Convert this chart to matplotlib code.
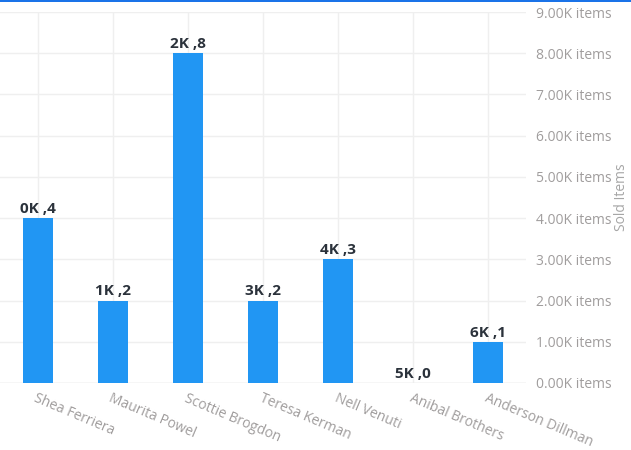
import matplotlib.pyplot as plt
from matplotlib.ticker import FuncFormatter, MultipleLocator
from matplotlib.patches import Rectangle

# datos del gráfico
vendedores = ["Shea Ferriera", "Maurita Powel", "Scottie Brogdon", "Teresa Kerman",
              "Nell Venuti", "Anibal Brothers", "Anderson Dillman"]
vendidos = [4000, 2000, 8000, 2000, 3000, 0, 1000]

plt.rcParams['font.family'] = ['Open Sans', 'DejaVu Sans']

fig = plt.figure(figsize=(6.31, 4.5), dpi=100)
ax = fig.add_axes([0.0, 67 / 450, 526 / 631, (383 - 12) / 450])

x = range(len(vendedores))
ax.bar(x, vendidos, width=0.4, color="#2196f3", zorder=3)

# etiquetas encima de cada barra
for i, v in enumerate(vendidos):
    ax.text(i, v + 50, f"{i}K ,{v // 1000}", ha="center", va="bottom",
            fontsize=11, fontweight="bold", color="#2b323b", zorder=4)

ax.set_xlim(-0.5, len(vendedores) - 0.5)
ax.set_ylim(0, 9000)
ax.yaxis.set_major_locator(MultipleLocator(1000))
ax.yaxis.set_major_formatter(FuncFormatter(lambda v, _: f"{v / 1000:.2f}K items"))
ax.yaxis.tick_right()
ax.yaxis.set_label_position("right")
ax.set_ylabel("Sold Items", color="#a6a6a6", fontsize=10, labelpad=2)

ax.set_xticks(list(x))
ax.set_xticklabels(vendedores, rotation=-23, ha="left", va="top",
                   rotation_mode="anchor", color="#a09d9d", fontsize=10)
ax.tick_params(axis="x", length=0, pad=6)
ax.tick_params(axis="y", length=0, pad=7, labelcolor="#a09d9d", labelsize=10)

ax.grid(True, color="#efefef", linewidth=1, zorder=0)
for s in ax.spines.values():
    s.set_visible(False)
ax.axhline(0, color="#e6e6e6", linewidth=1, zorder=2)

# línea azul superior
fig.add_artist(Rectangle((0, 1 - 2 / 450), 1, 2 / 450, transform=fig.transFigure,
                         color="#1a73e8", linewidth=0))

fig.savefig("out.png", dpi=100)
